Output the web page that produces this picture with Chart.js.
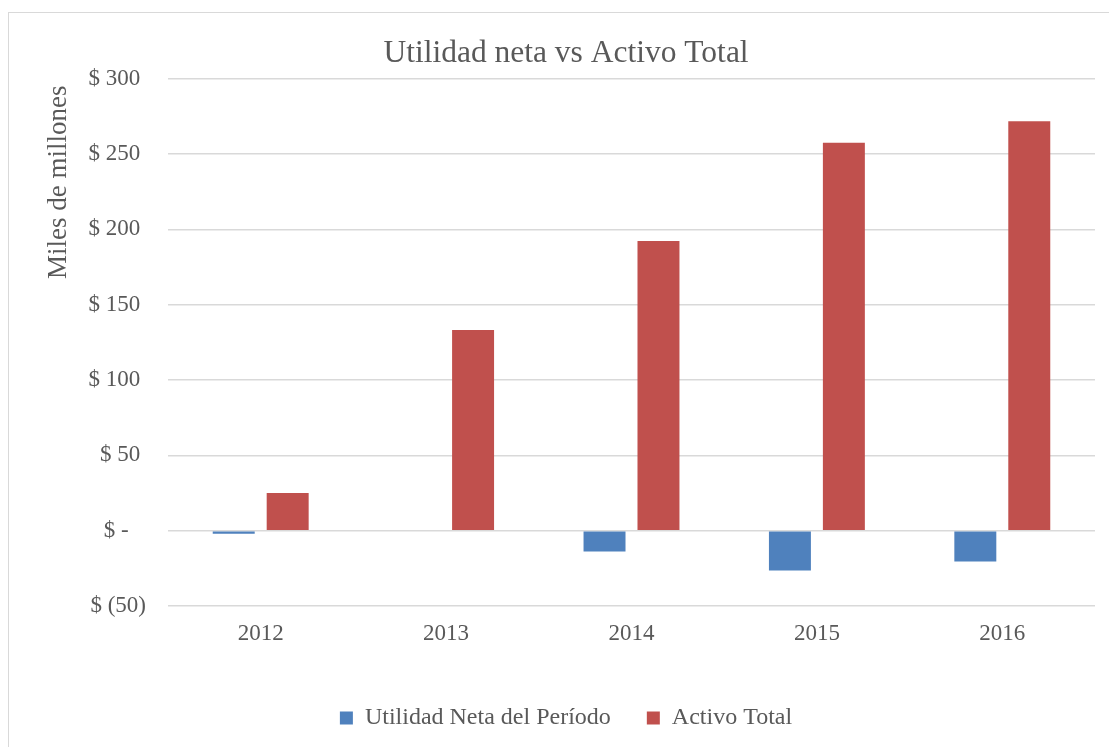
<!DOCTYPE html>
<html lang="es">
<head>
<meta charset="utf-8">
<title>Utilidad neta vs Activo Total</title>
<script src="https://cdn.jsdelivr.net/npm/chart.js@4.4.1/dist/chart.umd.min.js"></script>
<style>
    html, body { margin: 0; padding: 0; background: #ffffff; overflow: hidden; }
    body { width: 1109px; height: 747px; position: relative; }
    #marco {
        position: absolute;
        left: 8px;
        top: 12px;
        width: 1116px;
        height: 760px;
        border: 1px solid #d9d9d9;
        box-sizing: border-box;
        background: #ffffff;
    }
    #marco canvas { display: block; }
</style>
</head>
<body>
<div id="marco">
    <canvas id="grafico" width="1114" height="758"></canvas>
</div>
<script>
// ---------------------------------------------------------------------------
// DATOS (miles de millones)
// ---------------------------------------------------------------------------

const anios          = ['2012', '2013', '2014', '2015', '2016'];
const utilidadNeta   = [-2.1, 0, -13.8, -26.4, -20.4];
const activoTotal    = [25.1, 133.2, 192.4, 257.6, 271.9];
const ticksEje       = [-50, 0, 50, 100, 150, 200, 250, 300];

const NOMBRE_UTILIDAD = 'Utilidad Neta del Período';
const NOMBRE_ACTIVO   = 'Activo Total';

// ---------------------------------------------------------------------------
// ESTILO
// ---------------------------------------------------------------------------

const FUENTE     = "'Liberation Serif', 'Times New Roman', serif";
const GRIS_TEXTO = '#595959';
const GRIS_GRID  = '#d9d9d9';
const AZUL       = '#4f81bd';
const ROJO       = '#c0504d';

// Formato contable: "$ 300 ", "$ (50)", "$ -"
function formatoContable(v) {
    if (v === 0) return '$ -   ';
    if (v < 0)  return '$ (' + Math.abs(v) + ')';
    return '$ ' + v + ' ';
}

// ---------------------------------------------------------------------------
// GRÁFICO
// ---------------------------------------------------------------------------

new Chart(document.getElementById('grafico'), {
    type: 'bar',
    data: {
        labels: anios,
        datasets: [
            {
                label:           NOMBRE_UTILIDAD,
                data:            utilidadNeta,
                backgroundColor: AZUL,
                borderWidth:     0,
            },
            {
                label:           NOMBRE_ACTIVO,
                data:            activoTotal,
                backgroundColor: ROJO,
                borderWidth:     0,
            },
        ],
    },
    options: {
        responsive:  false,
        animation:   false,
        categoryPercentage: 0.582,
        barPercentage:      0.778,
        layout: { padding: { left: 0, right: 0, top: 0, bottom: 31 } },
        plugins: {
            title: {
                display: true,
                text:    'Utilidad neta vs Activo Total',
                color:   GRIS_TEXTO,
                font:    { family: FUENTE, size: 31.5, weight: 'normal' },
                padding: { top: 22, bottom: 6 },
            },
            legend: {
                position: 'bottom',
                labels: {
                    color:     GRIS_TEXTO,
                    font:      { family: FUENTE, size: 24 },
                    boxWidth:  13,
                    boxHeight: 13,
                    padding:   36,
                },
            },
            tooltip: { enabled: false },
        },
        scales: {
            x: {
                grid:   { display: false, drawTicks: false },
                border: { display: false },
                ticks:  {
                    color:   GRIS_TEXTO,
                    font:    { family: FUENTE, size: 23 },
                    padding: 14,
                },
                afterFit: function(escala) { escala.height = 64; },
            },
            y: {
                min: -50,
                max: 300,
                afterBuildTicks: function(escala) {
                    escala.ticks = ticksEje.map(v => ({ value: v }));
                },
                grid:   { color: GRIS_GRID, lineWidth: 1.5, drawTicks: false },
                border: { display: false },
                ticks:  {
                    color:    GRIS_TEXTO,
                    font:     { family: FUENTE, size: 23 },
                    padding:  22,
                    callback: v => formatoContable(v),
                },
                title: {
                    display: true,
                    text:    'Miles de millones ',
                    align:   'end',
                    color:   GRIS_TEXTO,
                    font:    { family: FUENTE, size: 27 },
                    padding: { top: 34, bottom: 0 },
                },
                afterFit: function(escala) { escala.width = 159; },
            },
            // margen derecho del área de trazado (eje vacío)
            margen: {
                type:     'linear',
                position: 'right',
                display:  true,
                grid:     { display: false, drawTicks: false },
                border:   { display: false },
                ticks:    { display: false },
                afterFit: function(escala) { escala.width = 28; },
            },
        },
    },
});
</script>
</body>
</html>
